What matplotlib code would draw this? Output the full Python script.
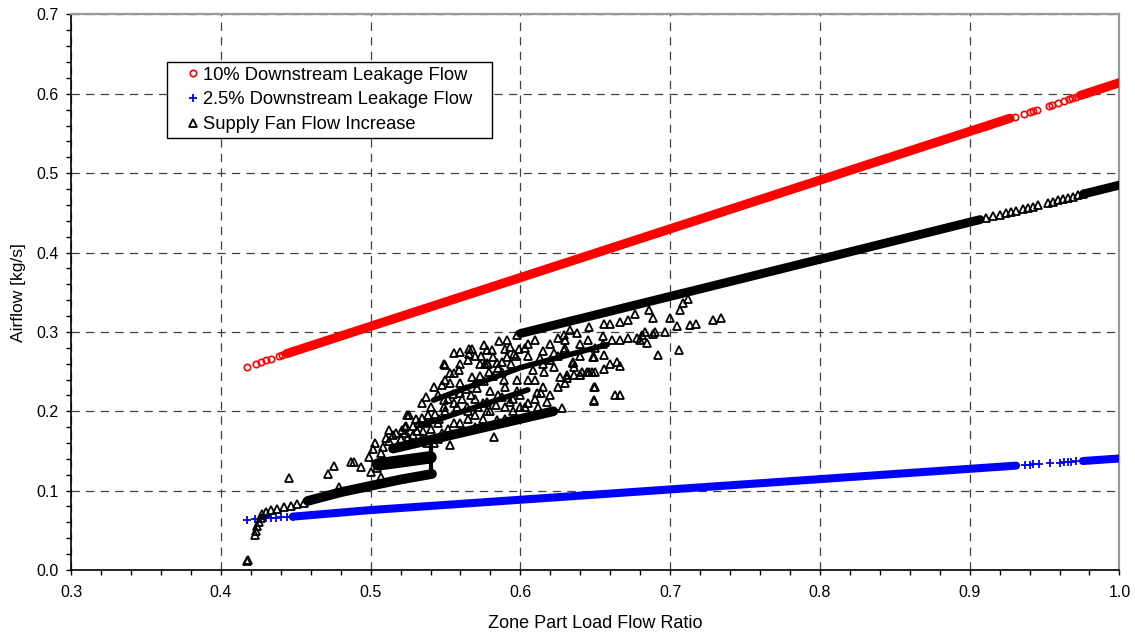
import matplotlib.pyplot as plt
from matplotlib.ticker import MultipleLocator, FormatStrFormatter

plt.rcParams['font.family'] = ['Liberation Sans', 'DejaVu Sans']
plt.rcParams['lines.scale_dashes'] = False

# ---------------- data ----------------
# 10% downstream leakage: dense run of points drawn as bands, sparse points as markers
red_band_x = [[0.444, 0.927], [0.974, 1.0]]
red_band_y = [[0.2726, 0.5692], [0.598, 0.614]]
red_x = [0.4173, 0.4233, 0.4267, 0.4300, 0.4333, 0.4389, 0.4411,
         0.9107, 0.9130, 0.9300, 0.9360, 0.9400, 0.9420, 0.9447,
         0.9530, 0.9550, 0.9590, 0.9630, 0.9660, 0.9680, 0.9710]
red_y = [0.2562, 0.2599, 0.2620, 0.2640, 0.2660, 0.2695, 0.2708,
         0.5592, 0.5606, 0.5710, 0.5747, 0.5772, 0.5784, 0.5800,
         0.5851, 0.5864, 0.5888, 0.5913, 0.5931, 0.5944, 0.5962]

# 2.5% downstream leakage
blue_band_x = [[0.448, 0.500, 0.931], [0.9756, 1.0]]
blue_band_y = [[0.0672, 0.0755, 0.1315], [0.1373, 0.1405]]
blue_x = [0.4173, 0.4227, 0.4267, 0.4300, 0.4333, 0.4370, 0.4400, 0.4440, 0.4480,
          0.9367, 0.9400, 0.9422, 0.9462, 0.9538, 0.9600, 0.9633, 0.9656, 0.9678, 0.9711]
blue_y = [0.0635, 0.0640, 0.0645, 0.0650, 0.0654, 0.0658, 0.0662, 0.0667, 0.0672,
          0.1323, 0.1327, 0.1330, 0.1335, 0.1345, 0.1353, 0.1357, 0.1360, 0.1363, 0.1367]

# supply fan flow increase: dense bands (x, y, thickness in pt)
fan_band_x = [[0.458, 0.480, 0.520, 0.541], [0.505, 0.540], [0.540, 0.540],
              [0.515, 0.622], [0.533, 0.605], [0.542, 0.600, 0.658],
              [0.600, 0.907], [0.976, 1.0]]
fan_band_y = [[0.087, 0.098, 0.114, 0.121], [0.133, 0.142], [0.122, 0.160],
              [0.153, 0.200], [0.182, 0.227], [0.214, 0.255, 0.284],
              [0.298, 0.4415], [0.4738, 0.485]]
fan_band_w = [7, 9, 3, 7, 4, 4, 6.4, 6.4]

fan_x = [0.4178, 0.4182,
         0.4227, 0.4233, 0.4244, 0.4256, 0.4267, 0.4278, 0.4300, 0.4333, 0.4378, 0.4422,
         0.4467, 0.4511, 0.4556,
         0.4456, 0.4716, 0.4756, 0.4789, 0.4871, 0.4889, 0.4933, 0.4989, 0.5018, 0.5000,
         0.5044, 0.5067, 0.5067, 0.5100, 0.5122, 0.5167, 0.5233, 0.5256, 0.5227, 0.5238,
         0.5244, 0.5344, 0.5367, 0.5422, 0.5500, 0.5556, 0.5533, 0.5589, 0.5478, 0.5489,
         0.5656, 0.5678, 0.5733, 0.5767, 0.5787, 0.5756, 0.5778, 0.5811, 0.5856, 0.5911,
         0.5933, 0.5989, 0.5978, 0.5778, 0.5844, 0.5878, 0.5678, 0.5711, 0.5889, 0.5844,
         0.5822, 0.5533, 0.5344, 0.5378, 0.5422, 0.5400, 0.5489, 0.5600, 0.5644,
         0.5300, 0.5350, 0.5450, 0.5500, 0.5560, 0.5450, 0.5600, 0.5650, 0.5700, 0.5750,
         0.5800, 0.5850, 0.5900, 0.5950, 0.6000, 0.5980, 0.6050, 0.5700, 0.5780, 0.5900,
         0.5200, 0.5280, 0.5320, 0.5380, 0.5260,
         0.6084, 0.6156, 0.6222, 0.6311, 0.6356, 0.6400, 0.6444, 0.6478, 0.6349, 0.6222,
         0.6289, 0.6133, 0.6033, 0.6110, 0.6140, 0.6278, 0.6493, 0.6489, 0.6484, 0.6289,
         0.6333, 0.6456,
         0.7067, 0.7089, 0.7122, 0.7000, 0.7049, 0.7133, 0.7173, 0.7284, 0.7338, 0.7056,
         0.6922, 0.6967, 0.6900, 0.6833, 0.6884, 0.6844, 0.6884, 0.6811, 0.6778, 0.6722,
         0.6722, 0.6667, 0.6856, 0.6767, 0.6611, 0.6667, 0.6800, 0.6556, 0.6489, 0.6600,
         0.6644, 0.6662, 0.6556, 0.6500, 0.6456, 0.6411, 0.6356, 0.6396, 0.6311, 0.6351,
         0.6500, 0.6633, 0.6662, 0.6489, 0.6267, 0.6556, 0.6600,
         0.9110, 0.9156, 0.9200, 0.9244, 0.9278, 0.9311, 0.9356, 0.9389, 0.9422, 0.9456,
         0.9522, 0.9556, 0.9589, 0.9622, 0.9656, 0.9689, 0.9722, 0.9756]
fan_y = [0.0113, 0.0128,
         0.0440, 0.0490, 0.0550, 0.0610, 0.0660, 0.0700, 0.0735, 0.0752, 0.0772, 0.0790,
         0.0808, 0.0828, 0.0848,
         0.1162, 0.1204, 0.1310, 0.1040, 0.1364, 0.1364, 0.1300, 0.1419, 0.1520, 0.1238,
         0.1280, 0.1470, 0.1175, 0.1658, 0.1763, 0.1721, 0.1720, 0.1951, 0.1804, 0.1810,
         0.1950, 0.2098, 0.2180, 0.2308, 0.2580, 0.2728, 0.2476, 0.2518, 0.2329, 0.2600,
         0.2790, 0.2790, 0.2600, 0.2600, 0.2600, 0.2830, 0.2770, 0.2770, 0.2887, 0.2896,
         0.2810, 0.2790, 0.2959, 0.2602, 0.2602, 0.2623, 0.2434, 0.2288, 0.2390, 0.1888,
         0.1678, 0.1574, 0.1658, 0.1595, 0.1595, 0.2056, 0.2140, 0.2225, 0.2056,
         0.1900, 0.1750, 0.1850, 0.2000, 0.2100, 0.2200, 0.2350, 0.2000, 0.2150, 0.2100,
         0.2250, 0.2200, 0.2300, 0.2150, 0.2200, 0.2400, 0.2400, 0.1950, 0.2000, 0.2050,
         0.1650, 0.1700, 0.1850, 0.1950, 0.1600,
         0.2518, 0.2497, 0.2560, 0.2455, 0.2455, 0.2455, 0.2497, 0.2497, 0.2602, 0.2728,
         0.2770, 0.2665, 0.2056, 0.2225, 0.2225, 0.2035, 0.2300, 0.2140, 0.2686, 0.2959,
         0.3020, 0.3063,
         0.3282, 0.3366, 0.3420, 0.3180, 0.3070, 0.3085, 0.3100, 0.3147, 0.3177, 0.2770,
         0.2707, 0.3000, 0.3000, 0.3000, 0.2971, 0.2862, 0.3169, 0.2959, 0.2917, 0.3147,
         0.2917, 0.3126, 0.3270, 0.3230, 0.2896, 0.2896, 0.2896, 0.2707, 0.2686, 0.2600,
         0.2623, 0.2568, 0.2527, 0.2497, 0.2497, 0.2497, 0.2552, 0.2455, 0.2413, 0.2602,
         0.2308, 0.2203, 0.2203, 0.2132, 0.2434, 0.3105, 0.3105,
         0.4434, 0.4455, 0.4476, 0.4497, 0.4512, 0.4528, 0.4549, 0.4564, 0.4580, 0.4596,
         0.4627, 0.4642, 0.4658, 0.4673, 0.4689, 0.4705, 0.4720, 0.4736]

# denser cloud of fan points between the bands
cloud_x = [0.503, 0.508, 0.512, 0.515, 0.518, 0.521, 0.525, 0.528, 0.531, 0.534,
           0.537, 0.540, 0.543, 0.546, 0.549, 0.552, 0.555, 0.558, 0.561, 0.564,
           0.567, 0.570, 0.573, 0.576, 0.579, 0.582, 0.585, 0.588, 0.591, 0.594,
           0.597, 0.550, 0.553, 0.556, 0.560, 0.565, 0.570, 0.560, 0.565, 0.570,
           0.575, 0.580, 0.590, 0.595, 0.600, 0.605, 0.610, 0.615, 0.620, 0.625,
           0.630, 0.610, 0.615, 0.620, 0.625, 0.630, 0.640, 0.645, 0.650, 0.655,
           0.620, 0.610, 0.605, 0.640, 0.605, 0.630, 0.655, 0.545, 0.548, 0.552,
           0.556, 0.572, 0.578, 0.584, 0.588, 0.593, 0.598, 0.612, 0.618, 0.635,
           0.560, 0.566, 0.574, 0.582, 0.590, 0.596, 0.603, 0.615, 0.625, 0.638]
cloud_y = [0.160, 0.155, 0.162, 0.170, 0.158, 0.176, 0.168, 0.182, 0.175, 0.192,
           0.185, 0.178, 0.196, 0.190, 0.205, 0.215, 0.222, 0.205, 0.215, 0.228,
           0.220, 0.235, 0.245, 0.238, 0.250, 0.245, 0.255, 0.250, 0.268, 0.260,
           0.270, 0.240, 0.235, 0.248, 0.260, 0.265, 0.270, 0.185, 0.190, 0.180,
           0.190, 0.200, 0.190, 0.200, 0.205, 0.210, 0.215, 0.230, 0.220, 0.230,
           0.235, 0.240, 0.260, 0.265, 0.270, 0.280, 0.285, 0.290, 0.280, 0.295,
           0.285, 0.290, 0.285, 0.270, 0.270, 0.290, 0.285, 0.165, 0.172, 0.178,
           0.185, 0.205, 0.212, 0.208, 0.218, 0.212, 0.225, 0.205, 0.212, 0.262,
           0.275, 0.272, 0.270, 0.268, 0.278, 0.272, 0.280, 0.276, 0.292, 0.298]

labels = ['10% Downstream Leakage Flow', '2.5% Downstream Leakage Flow',
          'Supply Fan Flow Increase']

# ---------------- figure ----------------
fig = plt.figure(figsize=(11.35, 6.35), dpi=100)
ax = fig.add_axes([0.0626, 0.1024, 0.9237, 0.8748])

for bx, by in zip(red_band_x, red_band_y):
    ax.plot(bx, by, color='red', lw=6.6, solid_capstyle='round', zorder=3)
for bx, by in zip(blue_band_x, blue_band_y):
    ax.plot(bx, by, color='blue', lw=5.8, solid_capstyle='round', zorder=3)
for bx, by, w in zip(fan_band_x, fan_band_y, fan_band_w):
    ax.plot(bx, by, color='black', lw=w, solid_capstyle='round', zorder=4)

ax.plot(red_x, red_y, ls='none', marker='o', ms=4.6, mfc='none', mec='red', mew=1.2,
        label=labels[0], zorder=3)
ax.plot(blue_x, blue_y, ls='none', marker='+', ms=6, mec='blue', mew=1.3,
        label=labels[1], zorder=3)
ax.plot(fan_x, fan_y, ls='none', marker='^', ms=5.8, mfc='none', mec='black', mew=1.3,
        label=labels[2], zorder=4)
ax.plot(cloud_x, cloud_y, ls='none', marker='^', ms=5.8, mfc='none', mec='black', mew=1.3,
        zorder=4)

ax.set_xlim(0.3, 1.0)
ax.set_ylim(0.0, 0.7)
ax.xaxis.set_major_locator(MultipleLocator(0.1))
ax.xaxis.set_minor_locator(MultipleLocator(0.02))
ax.yaxis.set_major_locator(MultipleLocator(0.1))
ax.yaxis.set_minor_locator(MultipleLocator(0.02))
ax.xaxis.set_major_formatter(FormatStrFormatter('%.1f'))
ax.yaxis.set_major_formatter(FormatStrFormatter('%.1f'))
ax.tick_params(which='both', direction='out', length=3.6, width=1, labelsize=11.5,
               top=False, right=False)
ax.tick_params(axis='x', pad=7)
ax.tick_params(axis='y', pad=5.3)

ax.grid(True, which='major', color='0.25', lw=0.9, linestyle=(0, (6, 4.5)))
ax.set_axisbelow(True)
for s in ['left', 'bottom']:
    ax.spines[s].set_color('black')
    ax.spines[s].set_linewidth(1.2)
for s in ['top', 'right']:
    ax.spines[s].set_color('0.6')
    ax.spines[s].set_linewidth(1.6)

ax.set_xlabel('Zone Part Load Flow Ratio', fontsize=13, va='center')
ax.xaxis.set_label_coords(0.5, -0.0972)
ax.set_ylabel('Airflow [kg/s]', fontsize=12.5, va='center')
ax.yaxis.set_label_coords(-0.0506, 0.5)

leg = ax.legend(loc='upper left',
                bbox_to_anchor=((167 - 71) / 1048, (570 - 135) / 555.5,
                                (492 - 167) / 1048, (135 - 62) / 555.5),
                mode='expand', fontsize=13.2, frameon=True, fancybox=False,
                edgecolor='black', framealpha=1, borderpad=0.25, handlelength=2.3,
                handletextpad=-0.6, labelspacing=0.42, numpoints=1, borderaxespad=0)
leg.get_frame().set_linewidth(1.0)

fig.savefig('out.png', dpi=100)
